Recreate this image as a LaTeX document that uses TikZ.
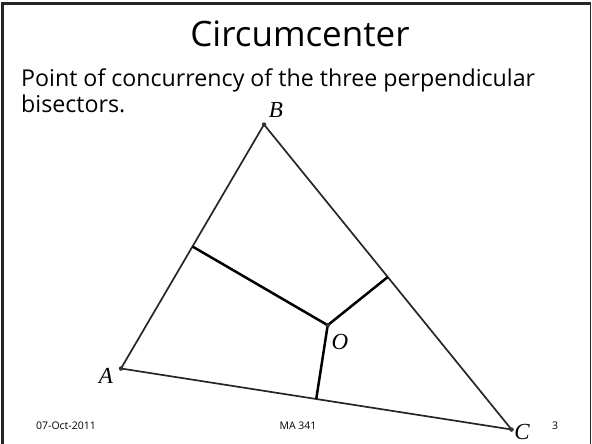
\documentclass[tikz,border=0pt]{standalone}
\usepackage{fontspec}
\setmainfont{Open Sans}
\newfontfamily\ptfont{Liberation Serif}
\usetikzlibrary{positioning,calc}

\begin{document}
\begin{tikzpicture}[x=1pt,y=-1pt,
  side/.style={line width=1.7pt,black!85},
  bisector/.style={line width=2.5pt,black},
  vertex/.style={circle,fill=black!80,inner sep=0pt,minimum size=4.5pt},
  ptlabel/.style={font=\ptfont\itshape\fontsize{23}{23}\selectfont,inner sep=0pt},
  footer/.style={font=\fontsize{10.5}{12}\selectfont,inner sep=0pt}]
\useasboundingbox (0,0) rectangle (592,444);
\draw[line width=3pt,black!85] (2.5,444) -- (2.5,3.5) -- (590.5,3.5);
\draw[line width=1pt,black!85] (590.5,3.5) -- (590.5,444);
\node[anchor=base,inner sep=0pt,font=\fontsize{35}{40}\selectfont] (title) at (300,46.7) {Circumcenter};
\node[anchor=base west,inner sep=0pt,font=\fontsize{23.2}{28}\selectfont] (line1) at (21,86.7) {Point of concurrency of the three perpendicular};
\node[anchor=base west,inner sep=0pt,font=\fontsize{23.2}{28}\selectfont] (line2) at (21,113) {bisectors.};
\coordinate (A) at (121,368.5);
\coordinate (B) at (264,124.5);
\coordinate (C) at (511.5,429.5);
\coordinate (O) at (327.7,325.2);
\coordinate (mAB) at ($(A)!0.5!(B)$);
\coordinate (mBC) at ($(B)!0.5!(C)$);
\coordinate (mAC) at ($(A)!0.5!(C)$);
\draw[side] (A) -- (B) -- (C) -- cycle;
\foreach \m in {mAB,mBC,mAC}
  \draw[bisector] (O) -- (\m);
\foreach \p in {A,B,C,O}
  \node[vertex] at (\p) {};
\node[ptlabel] (labA) at (106,376) {A};
\node[ptlabel] (labB) at (276,110) {B};
\node[ptlabel] (labO) at (340,342) {O};
\node[ptlabel] (labC) at (522,432) {C};
\node[footer] (date) at (66,426) {07-Oct-2011};
\node[footer] (course) at (298,426) {MA 341};
\node[footer] (page) at (555,426) {3};
\end{tikzpicture}
\end{document}
